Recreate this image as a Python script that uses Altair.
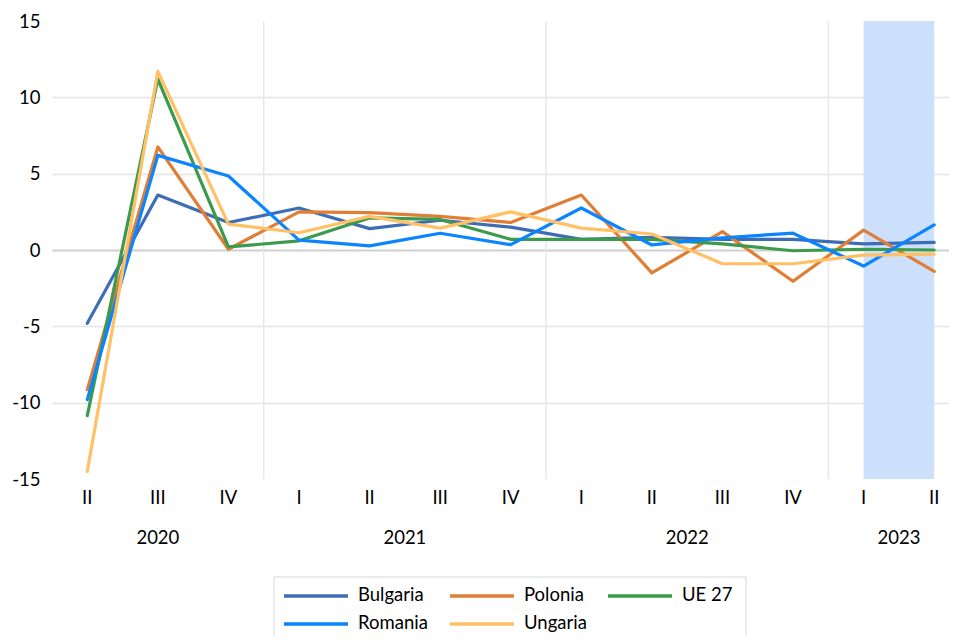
import altair as alt
import pandas as pd

# ---------------- data ----------------
quarters = ["II", "III", "IV", "I", "II", "III", "IV", "I", "II", "III", "IV", "I", "II"]
years = ["2020"] * 3 + ["2021"] * 4 + ["2022"] * 4 + ["2023"] * 2
series_names = ["Bulgaria", "Polonia", "UE 27", "Romania", "Ungaria"]
bulgaria = [-4.8, 3.6, 1.8, 2.75, 1.4, 1.95, 1.5, 0.7, 0.83, 0.7, 0.7, 0.4, 0.5]
polonia = [-9.15, 6.75, 0.05, 2.5, 2.45, 2.2, 1.8, 3.6, -1.5, 1.2, -2.05, 1.3, -1.4]
ue27 = [-10.85, 11.2, 0.2, 0.6, 2.1, 2.0, 0.7, 0.7, 0.7, 0.4, -0.05, 0.05, 0.0]
romania = [-9.8, 6.2, 4.85, 0.65, 0.27, 1.1, 0.35, 2.75, 0.33, 0.8, 1.1, -1.05, 1.65]
ungaria = [-14.5, 11.7, 1.7, 1.13, 2.2, 1.43, 2.5, 1.43, 1.05, -0.9, -0.9, -0.33, -0.27]
colors = ["#3E6DB5", "#E07E35", "#3C9A4C", "#0A84FF", "#FFC066"]
y_ticks = [-15, -10, -5, 0, 5, 10, 15]
highlight_period = [11, 12]  # index range of the shaded 2023 period

# ---------------- tables ----------------
values = [bulgaria, polonia, ue27, romania, ungaria]
rows = []
for name, vals in zip(series_names, values):
    for i, v in enumerate(vals):
        rows.append({"series": name, "idx": i, "value": v})
df = pd.DataFrame(rows)

q_df = pd.DataFrame({"idx": list(range(len(quarters))), "label": quarters})
year_groups = {}
for i, y in enumerate(years):
    year_groups.setdefault(y, []).append(i)
y_df = pd.DataFrame({"year": list(year_groups.keys()),
                     "idx": [sum(v) / len(v) for v in year_groups.values()]})
sep_df = pd.DataFrame({"pos": [i + 0.5 for i in range(len(years) - 1) if years[i] != years[i + 1]]})
band_df = pd.DataFrame({"start": [highlight_period[0]], "end": [highlight_period[1]]})

W, H = 897, 458
FONT = "Lato"
FS = 18.5

xscale = alt.Scale(domain=[-0.5, 12.21], nice=False, zero=False)
yscale = alt.Scale(domain=[-15, 15], nice=False, zero=False)

band = alt.Chart(band_df).mark_rect(color="#CCE0FB").encode(
    x=alt.X("start:Q", scale=xscale, axis=None),
    x2="end:Q",
    y=alt.value(0),
    y2=alt.value(H),
)

seps = alt.Chart(sep_df).mark_rule(color="#E8E8E8", strokeWidth=1.5).encode(
    x=alt.X("pos:Q", scale=xscale, axis=None),
    y=alt.value(0),
    y2=alt.value(H),
)

lines = alt.Chart(df).mark_line(strokeWidth=3.2, strokeJoin="round", strokeCap="round").encode(
    x=alt.X("idx:Q", scale=xscale, axis=None),
    y=alt.Y("value:Q", scale=yscale,
            axis=alt.Axis(values=y_ticks, grid=True, domain=False, ticks=False,
                          labelExpr="toString(datum.value)",
                          gridColor={"expr": "datum.value === 0 ? '#D0D0D0' : '#E4E4E4'"},
                          gridWidth={"expr": "datum.value === 0 ? 2 : 1.3"},
                          gridOpacity={"expr": "abs(datum.value) === 15 ? 0 : 1"},
                          labelPadding=12, labelFont=FONT, labelFontSize=FS,
                          labelColor="#000000", title=None)),
    color=alt.Color("series:N",
                    scale=alt.Scale(domain=series_names, range=colors),
                    legend=None),
    detail="series:N",
)

qlabels = alt.Chart(q_df).mark_text(font=FONT, fontSize=FS, color="#000000",
                                    baseline="alphabetic", align="center").encode(
    x=alt.X("idx:Q", scale=xscale, axis=None),
    y=alt.value(483),
    text="label:N",
)

ylabels = alt.Chart(y_df).mark_text(font=FONT, fontSize=FS, color="#000000",
                                    baseline="alphabetic", align="center").encode(
    x=alt.X("idx:Q", scale=xscale, axis=None),
    y=alt.value(523),
    text="year:N",
)

# ---------------- custom legend (layout in pixels) ----------------
leg_box = alt.Chart(pd.DataFrame({"a": [0]})).mark_rect(
    fill="white", stroke="#D9D9D9", strokeWidth=1).encode(
    x=alt.value(222), x2=alt.value(694), y=alt.value(556), y2=alt.value(625))

col_x = [232, 398, 556]
row_y = [575, 603]
legend_layers = [leg_box]
for i, (name, col) in enumerate(zip(series_names, colors)):
    cx = col_x[i % 3]
    ry = row_y[i // 3]
    one = pd.DataFrame({"series": [name]})
    legend_layers.append(
        alt.Chart(one).mark_rule(color=col, strokeWidth=3.3).encode(
            x=alt.value(cx), x2=alt.value(cx + 64), y=alt.value(ry)))
    legend_layers.append(
        alt.Chart(one).mark_text(font=FONT, fontSize=FS, color="#000000",
                                 align="left", baseline="middle").encode(
            x=alt.value(cx + 74), y=alt.value(ry - 1), text="series:N"))

chart = alt.layer(band, seps, lines, qlabels, ylabels, *legend_layers).properties(
    width=W, height=H,
    autosize=alt.AutoSizeParams(type="none"),
    padding={"left": 44, "top": 13, "right": 0, "bottom": 156},
    background="white",
).configure_view(stroke=None)

chart.save("out.html", embed_options={"renderer": "svg", "actions": False})
